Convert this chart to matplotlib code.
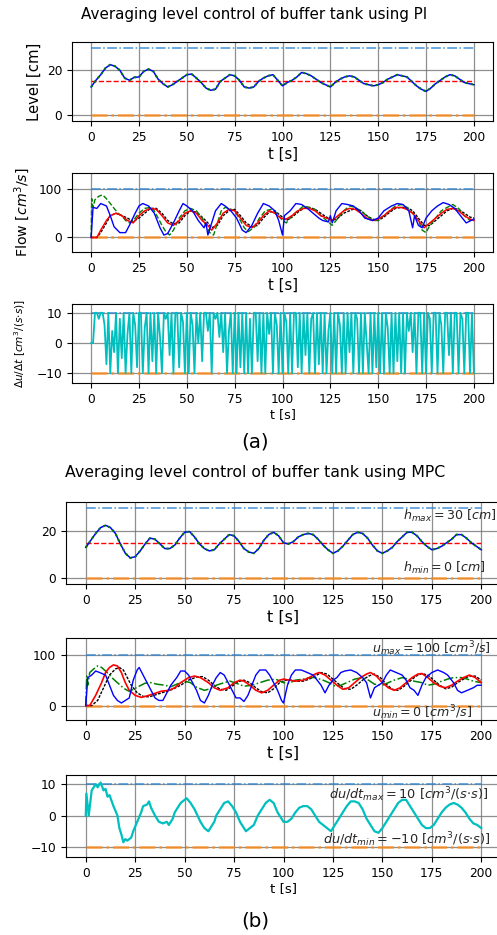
import numpy as np
import matplotlib.pyplot as plt

# ---- data ----
t_lvl = np.arange(0, 200.1, 2.5)

level_pi = [12.5, 15.5, 18, 21, 22.5, 21.8, 20, 16.5, 15.5, 16.8, 17, 19.5, 20.5, 19.5, 16, 14,
            12.5, 13.5, 15, 16.5, 18, 18.3, 16.5, 14.5, 12, 11, 11.5, 15, 16.5, 18, 17.5, 15.5,
            12.5, 12, 12.5, 15, 16.5, 17.5, 18, 15.5, 13, 14.5, 15.5, 17, 19, 18.5, 17.5, 16,
            14.5, 13.5, 12.5, 14.5, 16, 17, 17.5, 17, 15.5, 14, 13.5, 13, 13.5, 14.5, 16, 17,
            18, 17.5, 17, 15, 13, 11.5, 10.5, 12, 14, 15.5, 17, 18, 17.5, 16, 14.5, 14, 13.5]

level_mpc = [13, 16, 19, 21.5, 22.5, 21.5, 19, 14.5, 10.5, 8.5, 9, 11.5, 14.5, 17, 16.5, 14.5,
             12.5, 12.5, 14, 17, 19.5, 19.8, 17.5, 14.5, 12.5, 11.5, 12, 14.5, 16.5, 18.5, 18, 15.5,
             12.5, 11, 10.5, 12.5, 16, 18.5, 19.5, 18, 15, 14.5, 15.5, 17.5, 18.5, 19, 18.5, 16.5,
             14, 12, 10.5, 11.5, 13.5, 16, 18.5, 19.5, 19, 17, 14, 11.5, 10.5, 11.5, 13, 15.5,
             17.5, 19.5, 19.5, 18, 15.5, 13.5, 12, 12.5, 13.5, 15, 16.5, 18.5, 18.5, 17, 15, 13.5, 12]

# PI flows (t, value)
pi_blue = [(0, 0), (1, 62), (3, 60), (5, 70), (8, 65), (10, 45), (12, 22), (15, 10), (18, 10), (20, 25),
           (23, 50), (25, 65), (27, 70), (30, 65), (33, 50), (36, 20), (38, 5), (40, 8), (43, 30), (46, 55),
           (48, 70), (50, 65), (53, 55), (56, 35), (59, 20), (60, 30), (61, 5), (63, 30), (65, 55), (68, 70),
           (70, 65), (73, 55), (76, 40), (79, 15), (81, 10), (84, 25), (87, 50), (90, 70), (93, 65), (96, 55),
           (98, 35), (100, 5), (101, 45), (104, 55), (107, 70), (110, 68), (113, 60), (116, 50), (119, 40),
           (121, 35), (124, 32), (125, 45), (126, 30), (128, 55), (131, 70), (134, 68), (137, 65), (140, 55),
           (143, 40), (147, 35), (150, 40), (153, 55), (157, 65), (160, 70), (163, 68), (166, 55), (168, 20),
           (169, 45), (171, 25), (173, 20), (175, 40), (178, 55), (181, 65), (184, 72), (187, 68), (190, 60),
           (193, 45), (196, 30), (200, 38)]
pi_red = [(0, 0), (3, 0), (5, 15), (8, 35), (10, 45), (13, 50), (16, 45), (19, 35), (22, 30), (25, 45),
          (28, 55), (31, 60), (34, 58), (37, 45), (40, 30), (43, 25), (46, 35), (49, 50), (52, 55), (55, 50),
          (58, 35), (61, 25), (63, 15), (66, 30), (69, 50), (72, 58), (75, 55), (78, 40), (81, 25), (84, 20),
          (87, 30), (90, 45), (93, 55), (96, 50), (99, 40), (102, 38), (105, 45), (108, 55), (111, 60),
          (114, 60), (117, 55), (120, 45), (123, 40), (126, 35), (129, 45), (132, 55), (135, 60), (138, 58),
          (141, 50), (144, 40), (147, 35), (150, 38), (153, 45), (156, 55), (159, 62), (162, 62), (165, 58),
          (168, 50), (171, 35), (174, 20), (177, 30), (180, 40), (183, 50), (186, 58), (189, 60), (192, 55),
          (195, 45), (198, 38), (200, 35)]
pi_green = [(0, 0), (0.3, 80), (1, 62), (2, 78), (4, 85), (6, 88), (8, 80), (10, 70), (12, 60), (14, 50),
            (16, 45), (18, 35), (20, 30), (22, 35), (25, 50), (28, 60), (31, 62), (33, 55), (35, 40), (37, 25),
            (39, 12), (41, 5), (43, 15), (46, 40), (49, 55), (52, 60), (55, 55), (58, 40), (60, 25), (62, 10),
            (64, 5), (66, 30), (68, 55), (70, 62), (72, 60), (75, 55), (78, 35), (80, 20), (82, 12), (85, 20),
            (88, 40), (91, 55), (94, 58), (97, 50), (100, 35), (102, 30), (105, 45), (108, 55), (111, 65),
            (114, 62), (117, 58), (120, 45), (123, 35), (126, 25), (129, 40), (132, 55), (135, 65), (138, 62),
            (141, 55), (144, 45), (147, 35), (150, 35), (153, 45), (156, 55), (159, 65), (162, 68), (165, 62),
            (168, 50), (171, 35), (173, 15), (175, 10), (177, 25), (180, 40), (183, 55), (186, 62), (189, 68),
            (192, 60), (195, 45), (198, 35), (200, 38)]
pi_black = [(0, 0), (3, 0), (5, 10), (8, 30), (10, 45), (13, 50), (16, 45), (19, 40), (22, 33), (25, 40),
            (28, 50), (31, 60), (34, 60), (37, 50), (40, 35), (43, 28), (46, 30), (49, 45), (52, 55), (55, 52),
            (58, 42), (61, 30), (63, 20), (66, 25), (69, 45), (72, 55), (75, 58), (78, 45), (81, 30), (84, 22),
            (87, 25), (90, 40), (93, 52), (96, 55), (99, 45), (102, 35), (105, 42), (108, 52), (111, 60),
            (114, 62), (117, 58), (120, 50), (123, 42), (126, 35), (129, 40), (132, 50), (135, 55), (138, 60),
            (141, 55), (144, 45), (147, 38), (150, 35), (153, 42), (156, 52), (159, 60), (162, 62), (165, 62),
            (168, 55), (171, 40), (174, 25), (177, 25), (180, 35), (183, 45), (186, 55), (189, 60), (192, 58),
            (195, 50), (198, 42), (200, 40)]

# PI rate of change, one value per second
du_pi = [0, 0, 10, 10, 8, 10, 10, 6, -7, 10,
         -10, 4, -3, 10, -10, 8, -5, 10, -10, 3,
         10, -10, 10, 6, -8, 10, 10, -10, 5, 10,
         -10, 10, -6, 10, -10, 10, 2, -10, 10, 8,
         10, -4, 10, -10, 10, 10, -8, 10, 7, -10,
         10, -10, 10, 6, -10, 10, 0, 10, -6, 10,
         10, 4, 10, -10, 10, 8, 10, 2, 10, -3,
         10, -10, 4, 10, -10, 10, -10, 10, -8, 10,
         -10, 10, -10, 8, -10, 10, 10, -6, 10, -10,
         10, -10, 10, 3, 10, -10, 10, 6, -10, 10,
         -10, 10, 7, -10, 10, -10, 10, 10, -8, 10,
         -10, 10, -4, 10, -10, 8, 10, -10, 10, -7,
         10, -10, 10, -10, 4, 10, -10, 10, -10, 10,
         6, -10, 10, -10, 10, -3, 10, -10, 10, 8,
         -10, 10, -10, 10, 0, -10, 10, -10, 10, -8,
         10, -10, 10, -10, 10, 5, -10, 10, -10, 10,
         -6, 10, -10, 10, -10, 10, 4, 10, -3, 10,
         -10, 10, 10, -10, 10, -10, 10, 8, -10, 10,
         10, -10, 10, 6, -10, 10, 10, -4, 10, -10,
         10, 10, -10, 10, 8, -10, 10, 10, -10, 10,
         -10]

# MPC flows (t, value)
mpc_blue = [(0, 0), (1, 55), (3, 60), (5, 68), (7, 65), (10, 60), (12, 40), (14, 20), (16, 10), (18, 5),
            (20, 10), (22, 15), (24, 50), (26, 70), (27, 75), (29, 60), (31, 45), (33, 30), (35, 15), (37, 10),
            (39, 10), (41, 25), (43, 40), (46, 55), (48, 68), (50, 68), (52, 60), (54, 45), (56, 30), (58, 10),
            (60, 5), (62, 20), (64, 40), (66, 55), (68, 65), (70, 60), (72, 45), (74, 30), (76, 15), (78, 15),
            (80, 8), (82, 20), (84, 40), (86, 60), (88, 70), (91, 70), (93, 60), (95, 45), (97, 30), (99, 10),
            (100, 5), (102, 40), (104, 60), (106, 70), (109, 70), (112, 65), (115, 60), (117, 50), (119, 40),
            (121, 25), (123, 40), (125, 50), (127, 55), (129, 65), (131, 68), (134, 70), (137, 65), (140, 55),
            (142, 45), (144, 15), (146, 35), (148, 40), (150, 45), (152, 60), (154, 70), (157, 65), (160, 60),
            (162, 50), (164, 35), (166, 30), (168, 20), (170, 40), (172, 55), (175, 65), (178, 70), (181, 65),
            (183, 60), (186, 45), (188, 30), (190, 25), (193, 30), (196, 35), (198, 40), (200, 40)]
mpc_red = [(0, 0), (2, 0), (5, 20), (8, 45), (10, 65), (12, 75), (14, 80), (16, 78), (18, 65), (20, 45),
           (22, 30), (25, 20), (28, 16), (31, 19), (35, 24), (38, 28), (42, 30), (45, 35), (48, 45), (52, 55),
           (55, 58), (58, 55), (62, 45), (65, 35), (68, 30), (72, 35), (75, 45), (78, 50), (80, 48), (83, 40),
           (86, 30), (89, 25), (92, 30), (95, 40), (98, 50), (100, 52), (103, 50), (106, 48), (110, 50),
           (113, 55), (116, 62), (118, 65), (121, 60), (124, 50), (127, 40), (130, 32), (133, 35), (136, 45),
           (139, 55), (142, 62), (144, 65), (147, 58), (150, 45), (153, 35), (156, 30), (159, 35), (162, 45),
           (165, 55), (168, 62), (170, 63), (173, 55), (176, 45), (179, 38), (182, 35), (185, 40), (188, 48),
           (191, 55), (194, 60), (197, 55), (200, 45)]
mpc_black = [(0, 0), (3, 0), (6, 10), (9, 35), (12, 60), (15, 72), (17, 75), (19, 70), (21, 55), (23, 40),
             (26, 25), (29, 18), (32, 17), (36, 22), (40, 27), (44, 32), (48, 40), (52, 50), (56, 56), (59, 57),
             (62, 50), (65, 40), (68, 32), (71, 30), (74, 38), (77, 47), (80, 50), (83, 45), (86, 35), (89, 27),
             (92, 25), (95, 33), (98, 45), (101, 50), (104, 50), (107, 48), (110, 48), (113, 52), (116, 58),
             (119, 65), (122, 62), (125, 52), (128, 42), (131, 33), (134, 32), (137, 40), (140, 50), (143, 58),
             (146, 62), (149, 55), (152, 42), (155, 32), (158, 30), (161, 38), (164, 48), (167, 58), (170, 63),
             (173, 60), (176, 50), (179, 40), (182, 33), (185, 36), (188, 45), (191, 52), (194, 58), (197, 58),
             (200, 50)]
mpc_green = [(0, 0), (0.5, 58), (1, 40), (2, 65), (4, 72), (6, 78), (8, 75), (10, 68), (12, 60), (14, 52),
             (16, 45), (18, 38), (20, 32), (22, 28), (24, 32), (27, 38), (30, 44), (33, 45), (36, 42), (40, 40),
             (43, 37), (46, 42), (50, 48), (53, 45), (56, 36), (60, 30), (63, 33), (66, 40), (70, 45), (73, 48),
             (76, 44), (80, 38), (84, 40), (88, 45), (92, 50), (96, 52), (100, 45), (103, 44), (106, 50),
             (110, 52), (113, 55), (116, 55), (120, 50), (123, 45), (126, 38), (129, 40), (132, 45), (136, 52),
             (140, 55), (143, 50), (146, 42), (150, 40), (153, 45), (156, 50), (160, 55), (163, 52), (166, 48),
             (170, 45), (173, 40), (176, 42), (180, 48), (183, 52), (186, 55), (190, 55), (193, 52), (196, 48),
             (200, 45)]

du_mpc = [(0, 0), (0.3, 7), (1.5, 0), (3, 8), (4, 9), (5, 10), (6, 9), (7.5, 10.5), (9, 8), (10, 8.5),
          (11, 6), (12, 6.5), (14, 3), (16, 0), (17, -4), (18, -6), (19, -8.5), (20, -7.5), (21, -8),
          (23, -7), (24, -5), (26, -2), (28, 1), (29, 3), (31, 3.5), (32, 4.5), (33, 2.5), (35, 0), (37, -2),
          (39, -2.5), (41, -2), (42, -3), (44, -1), (45, 1), (46, 2), (48, 4), (50, 5), (51, 5.5), (53, 4),
          (55, 2), (58, -2), (60, -4), (62, -5), (63, -4), (65, -2), (66, 0), (68, 2), (70, 4), (72, 4.5),
          (74, 3), (76, 1), (78, -2), (80, -4), (81, -5), (83, -4), (85, -3), (87, 0), (89, 2), (91, 4),
          (93, 5), (95, 4), (97, 1), (100, -2), (102, -2), (104, -1), (106, 1), (108, 2.5), (110, 3), (112, 3),
          (114, 2), (116, 0), (118, -2), (120, -3), (122, -4), (124, -5), (126, -3), (128, -1), (130, 1),
          (132, 3), (134, 4.5), (136, 4.5), (138, 4), (140, 2), (142, -1), (144, -3), (146, -5), (148, -5.5),
          (150, -4), (152, -2), (154, 0), (156, 2), (158, 4), (160, 5), (162, 5), (164, 3), (166, 1),
          (168, -1), (170, -3), (172, -4), (174, -4), (176, -3), (178, -1), (180, 1), (182, 2.5), (184, 3.5),
          (186, 4), (188, 3.5), (190, 2.5), (192, 1), (194, -1), (196, -2.5), (198, -3), (200, -4)]

h_max, h_min, h_sp = 30, 0, 15
u_max, u_min = 100, 0
du_max, du_min = 10, -10
xticks = [0, 25, 50, 75, 100, 125, 150, 175, 200]

W, H = 497, 935
fig = plt.figure(figsize=(W / 100, H / 100), dpi=100)


def box(l, r, top, bot):
    return [l / W, 1 - bot / H, (r - l) / W, (bot - top) / H]


def style(ax, ylim, yticks, xlab_size):
    ax.set_xlim(-10, 210)
    ax.set_ylim(*ylim)
    ax.set_xticks(xticks)
    ax.set_yticks(yticks)
    ax.tick_params(labelsize=8.8, length=3.5)
    ax.grid(True, color='0.45', lw=0.9, alpha=0.8)
    ax.set_axisbelow(True)
    ax.set_xlabel('t [s]', fontsize=xlab_size, labelpad=2)


def limits(ax, lo, hi):
    ax.plot([0, 200], [hi, hi], '-.', color='#2f86d0', lw=1.1, alpha=0.9)
    ax.plot([0, 200], [lo, lo], '-.', color='#ff8c1a', lw=1.8, alpha=0.8)


def unz(pairs):
    return [p[0] for p in pairs], [p[1] for p in pairs]


# ---------------- (a) PI ----------------
ax = fig.add_axes(box(72, 493, 42, 121))
limits(ax, h_min, h_max)
ax.plot([0, 200], [h_sp, h_sp], 'r--', lw=1)
ax.plot(t_lvl, level_pi, 'b-', lw=1.1)
ax.plot(t_lvl, level_pi, ':', color='green', lw=1.5)
style(ax, (-2.8, 32.7), [0, 20], 10.7)
ax.set_ylabel('Level [cm]', fontsize=10.7)
ax.yaxis.set_label_coords(-0.071, 0.5)

ax = fig.add_axes(box(72, 493, 173, 252))
limits(ax, u_min, u_max)
ax.plot(*unz(pi_black), color='k', lw=1, ls=(0, (2, 1)))
ax.plot(*unz(pi_green), color='green', lw=1, ls='--')
ax.plot(*unz(pi_red), 'r-', lw=1.1)
ax.plot(*unz(pi_blue), 'b-', lw=1)
style(ax, (-30, 133), [0, 100], 10.7)
ax.set_ylabel('Flow [$cm^3/s$]', fontsize=10.2)
ax.yaxis.set_label_coords(-0.095, 0.5)

ax = fig.add_axes(box(72, 493, 304, 383))
limits(ax, du_min, du_max)
ax.plot(np.arange(len(du_pi)), du_pi, color='c', lw=1.3)
style(ax, (-13.2, 12.9), [-10, 0, 10], 9.2)
ax.set_ylabel(r'$\Delta u/\Delta t$ [$cm^3/(s{\cdot}s)$]', fontsize=7.6)
ax.yaxis.set_label_coords(-0.105, 0.5)

fig.text(254 / W, 1 - 15 / H, 'Averaging level control of buffer tank using PI',
         ha='center', va='center', fontsize=10.9)
fig.text(255 / W, 1 - 442 / H, '(a)', ha='center', va='center', fontsize=14.3)

# ---------------- (b) MPC ----------------
ax = fig.add_axes(box(66, 501, 502, 584))
limits(ax, h_min, h_max)
ax.plot([0, 200], [h_sp, h_sp], 'r--', lw=1)
ax.plot(t_lvl, level_mpc, 'b-', lw=1.1)
ax.plot(t_lvl, level_mpc, ':', color='green', lw=1.5)
style(ax, (-2.7, 32.5), [0, 20], 11.5)
ax.text(160.6, 26.6, r'$h_{max} = 30\ [cm]$', fontsize=9.1, va='center', color='0.15')
ax.text(160.6, 4, r'$h_{min} = 0\ [cm]$', fontsize=9.1, va='center', color='0.15')

ax = fig.add_axes(box(66, 501, 638, 720))
limits(ax, u_min, u_max)
ax.plot(*unz(mpc_black), color='k', lw=1, ls=(0, (2, 1)))
ax.plot(*unz(mpc_green), color='green', lw=1.1, ls='-.')
ax.plot(*unz(mpc_red), 'r-', lw=1.2)
ax.plot(*unz(mpc_blue), 'b-', lw=1)
style(ax, (-28.5, 133), [0, 100], 11.5)
ax.text(145, 113, r'$u_{max} = 100\ [cm^3/s]$', fontsize=9.1, va='center', color='0.15')
ax.text(145, -15, r'$u_{min} = 0\ [cm^3/s]$', fontsize=9.1, va='center', color='0.15')

ax = fig.add_axes(box(66, 501, 775, 857))
limits(ax, du_min, du_max)
ax.plot(*unz(du_mpc), color='c', lw=1.6)
style(ax, (-13.2, 12.9), [-10, 0, 10], 9.6)
ax.text(122.8, 6.5, r'$du/dt_{max} = 10\ [cm^3/(s{\cdot}s)]$', fontsize=9.3, va='center', color='0.15')
ax.text(120, -7.7, r'$du/dt_{min} = -10\ [cm^3/(s{\cdot}s)]$', fontsize=9.3, va='center', color='0.15')

fig.text(255 / W, 1 - 473 / H, 'Averaging level control of buffer tank using MPC',
         ha='center', va='center', fontsize=11.3)
fig.text(255 / W, 1 - 921 / H, '(b)', ha='center', va='center', fontsize=14.3)

fig.savefig('out.png', dpi=100)
